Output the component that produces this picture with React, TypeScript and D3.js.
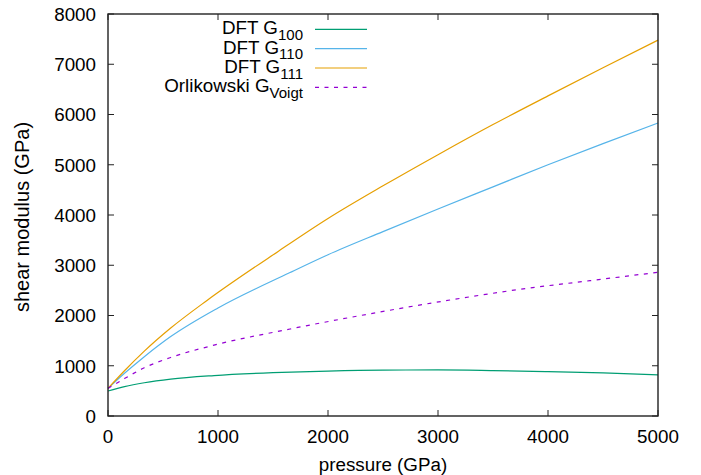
import React from "react";
import * as d3 from "d3";

const pressureG100 = [0, 150, 330, 570, 964, 1500, 2000, 2500, 3000, 3500, 4000, 4500, 5000];
const valuesG100 = [497, 585, 662, 735, 805, 862, 895, 913, 916, 903, 883, 857, 818];

const pressureG110 = [0, 150, 330, 570, 1000, 1650, 2000, 2500, 3000, 3500, 4000, 4500, 5000];
const valuesG110 = [550, 850, 1180, 1580, 2150, 2850, 3210, 3670, 4120, 4560, 5000, 5420, 5830];

const pressureG111 = [0, 150, 330, 570, 900, 1550, 2000, 2500, 3000, 3500, 4000, 4500, 5000];
const valuesG111 = [550, 900, 1290, 1750, 2300, 3280, 3930, 4580, 5200, 5800, 6370, 6930, 7480];

const pressureVoigt = [0, 150, 330, 570, 964, 1655, 2473, 3109, 3745, 4382, 5000];
const valuesVoigt = [550, 745, 960, 1165, 1410, 1731, 2070, 2308, 2521, 2693, 2860];

const xTicks = [0, 1000, 2000, 3000, 4000, 5000];
const yTicks = [0, 1000, 2000, 3000, 4000, 5000, 6000, 7000, 8000];

const legendMain = ["DFT G", "DFT G", "DFT G", "Orlikowski G"];
const legendSub = ["100", "110", "111", "Voigt"];

const W = 701;
const H = 475;
const left = 108;
const right = 658;
const top = 14;
const bottom = 416;
const FONT = "'Liberation Sans', Arial, sans-serif";
const FS = 18.8;

export default function App() {
  const x = d3.scaleLinear().domain([0, 5000]).range([left, right]);
  const y = d3.scaleLinear().domain([0, 8000]).range([bottom, top]);

  const series = [
    { p: pressureG100, v: valuesG100, color: "#009e73", dash: undefined },
    { p: pressureG110, v: valuesG110, color: "#56b4e9", dash: undefined },
    { p: pressureG111, v: valuesG111, color: "#e69f00", dash: undefined },
    { p: pressureVoigt, v: valuesVoigt, color: "#9400d3", dash: "4,5.5" },
  ];

  const line = d3
    .line<[number, number]>()
    .x((d) => x(d[0]))
    .y((d) => y(d[1]))
    .curve(d3.curveMonotoneX);

  const tick = 6;
  const legendRows = [29.3, 48.7, 68, 87.3];

  return (
    <svg
      width={W}
      height={H}
      style={{ position: "absolute", left: 0, top: 0, background: "#fff" }}
      fontFamily={FONT}
    >
      <rect x={0} y={0} width={W} height={H} fill="#fff" />
      {series.map((s, i) => (
        <path
          key={i}
          d={line(s.p.map((pp, j) => [pp, s.v[j]] as [number, number])) || ""}
          fill="none"
          stroke={s.color}
          strokeWidth={1.2}
          strokeDasharray={s.dash}
        />
      ))}
      {xTicks.map((t) => (
        <g key={"x" + t}>
          <line x1={x(t)} x2={x(t)} y1={bottom} y2={bottom - tick} stroke="#222" strokeWidth={1} />
          <line x1={x(t)} x2={x(t)} y1={top} y2={top + tick} stroke="#222" strokeWidth={1} />
          <text x={x(t)} y={443} fontSize={FS} textAnchor="middle" fill="#000">
            {t}
          </text>
        </g>
      ))}
      {yTicks.map((t) => (
        <g key={"y" + t}>
          <line x1={left} x2={left + tick} y1={y(t)} y2={y(t)} stroke="#222" strokeWidth={1} />
          <line x1={right} x2={right - tick} y1={y(t)} y2={y(t)} stroke="#222" strokeWidth={1} />
          <text x={96} y={y(t) + 6.8} fontSize={FS} textAnchor="end" fill="#000">
            {t}
          </text>
        </g>
      ))}
      <rect
        x={left}
        y={top}
        width={right - left}
        height={bottom - top}
        fill="none"
        stroke="#222"
        strokeWidth={1.4}
      />
      {legendMain.map((m, i) => (
        <g key={"l" + i}>
          <text x={303} y={legendRows[i] + 5} fontSize={FS} textAnchor="end" fill="#000">
            {m}
            <tspan dy={5.7} fontSize={FS * 0.8}>
              {legendSub[i]}
            </tspan>
          </text>
          <line
            x1={315}
            x2={367}
            y1={legendRows[i]}
            y2={legendRows[i]}
            stroke={series[i].color}
            strokeWidth={1.2}
            strokeDasharray={series[i].dash}
          />
        </g>
      ))}
      <text x={(left + right) / 2} y={471} fontSize={FS} textAnchor="middle" fill="#000">
        pressure (GPa)
      </text>
      <text
        transform={`translate(28.5, ${(top + bottom) / 2 + 2}) rotate(-90)`}
        fontSize={20}
        textAnchor="middle"
        fill="#000"
      >
        shear modulus (GPa)
      </text>
    </svg>
  );
}
